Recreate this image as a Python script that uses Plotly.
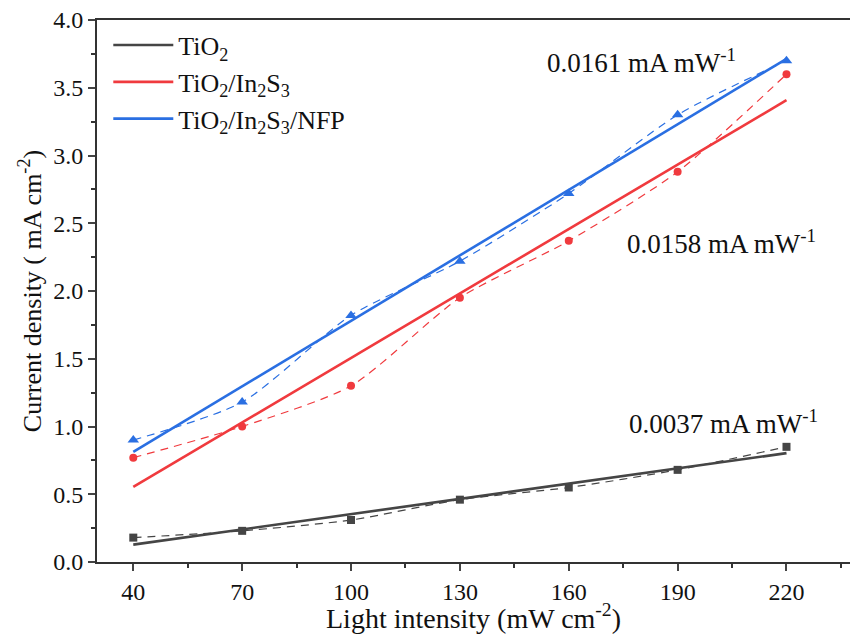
import numpy as np
import plotly.graph_objects as go

# ---- data ----
light_intensity = [40, 70, 100, 130, 160, 190, 220]
tio2 = [0.18, 0.23, 0.31, 0.46, 0.55, 0.68, 0.85]
tio2_in2s3 = [0.77, 1.00, 1.30, 1.95, 2.37, 2.88, 3.60]
tio2_in2s3_nfp = [0.90, 1.18, 1.82, 2.22, 2.72, 3.30, 3.70]

series_names = ["TiO<sub>2</sub>", "TiO<sub>2</sub>/In<sub>2</sub>S<sub>3</sub>",
                "TiO<sub>2</sub>/In<sub>2</sub>S<sub>3</sub>/NFP"]
series_values = [tio2, tio2_in2s3, tio2_in2s3_nfp]
slope_labels = ["0.0037 mA mW<sup>-1</sup>", "0.0158 mA mW<sup>-1</sup>", "0.0161 mA mW<sup>-1</sup>"]
label_x = [176, 175.5, 153.4]
label_y = [1.03, 2.36, 3.70]

x_ticks = [40, 70, 100, 130, 160, 190, 220]
y_ticks = [0.0, 0.5, 1.0, 1.5, 2.0, 2.5, 3.0, 3.5, 4.0]

colors = ["#454545", "#F03A3E", "#2A6FE2"]
symbols = ["square", "circle", "triangle-up"]
marker_sizes = [8, 8, 10]

FONT = "Liberation Serif"

fig = go.Figure()
x = np.array(light_intensity, dtype=float)
for name, vals, col, sym, ms in zip(series_names, series_values, colors, symbols, marker_sizes):
    y = np.array(vals)
    fig.add_trace(go.Scatter(
        x=x, y=y, mode="lines+markers", showlegend=False,
        line=dict(color=col, width=1.2, dash="8px,6px", shape="spline", smoothing=0.7),
        marker=dict(symbol=sym, size=ms, color=col),
    ))
for name, vals, col in zip(series_names, series_values, colors):
    y = np.array(vals)
    k, b = np.polyfit(x, y, 1)
    fx = np.array([x.min(), x.max()])
    fig.add_trace(go.Scatter(
        x=fx, y=k * fx + b, mode="lines", name=name,
        line=dict(color=col, width=2.6),
    ))

for txt, lx, ly in zip(slope_labels, label_x, label_y):
    fig.add_annotation(x=lx, y=ly, text=txt, showarrow=False, xanchor="left",
                       yanchor="middle", font=dict(family=FONT, size=27, color="#111"))

# x-axis title placed as an annotation to match the reference position
fig.add_annotation(xref="paper", yref="paper", x=0.5, y=-0.101, xanchor="center",
                   yanchor="middle", showarrow=False,
                   text="Light intensity (mW cm<sup>-2</sup>)",
                   font=dict(family=FONT, size=28, color="#111"))

fig.update_layout(
    width=850, height=640,
    margin=dict(l=97, r=0, t=20, b=78),
    plot_bgcolor="white", paper_bgcolor="white",
    font=dict(family=FONT, size=24, color="#111"),
    legend=dict(x=0.015, y=0.997, xanchor="left", yanchor="top",
                bgcolor="rgba(0,0,0,0)", font=dict(family=FONT, size=26),
                itemwidth=60, tracegroupgap=4),
    xaxis=dict(
        range=[30, 237.5], tickvals=x_ticks, ticks="outside", ticklen=7, tickwidth=1.5,
        showline=True, linewidth=2, linecolor="#333", mirror=True, showgrid=False,
        zeroline=False, tickfont=dict(size=24),
        minor=dict(tickvals=[55, 85, 115, 145, 175, 205, 235], ticks="outside",
                   ticklen=4, tickwidth=1.5, tickcolor="#333"),
    ),
    yaxis=dict(
        range=[0, 4.0], tickvals=y_ticks, tickformat=".1f", ticks="outside", ticklen=7,
        tickwidth=1.5, showline=True, linewidth=2, linecolor="#333", showgrid=False,
        zeroline=False, tickfont=dict(size=24),
        minor=dict(tickvals=[0.25, 0.75, 1.25, 1.75, 2.25, 2.75, 3.25, 3.75], ticks="outside",
                   ticklen=4, tickwidth=1.5, tickcolor="#333"),
        title=dict(text="Current density ( mA cm<sup>-2</sup>)", font=dict(size=26), standoff=4),
    ),
)

fig.write_html("out.html")
